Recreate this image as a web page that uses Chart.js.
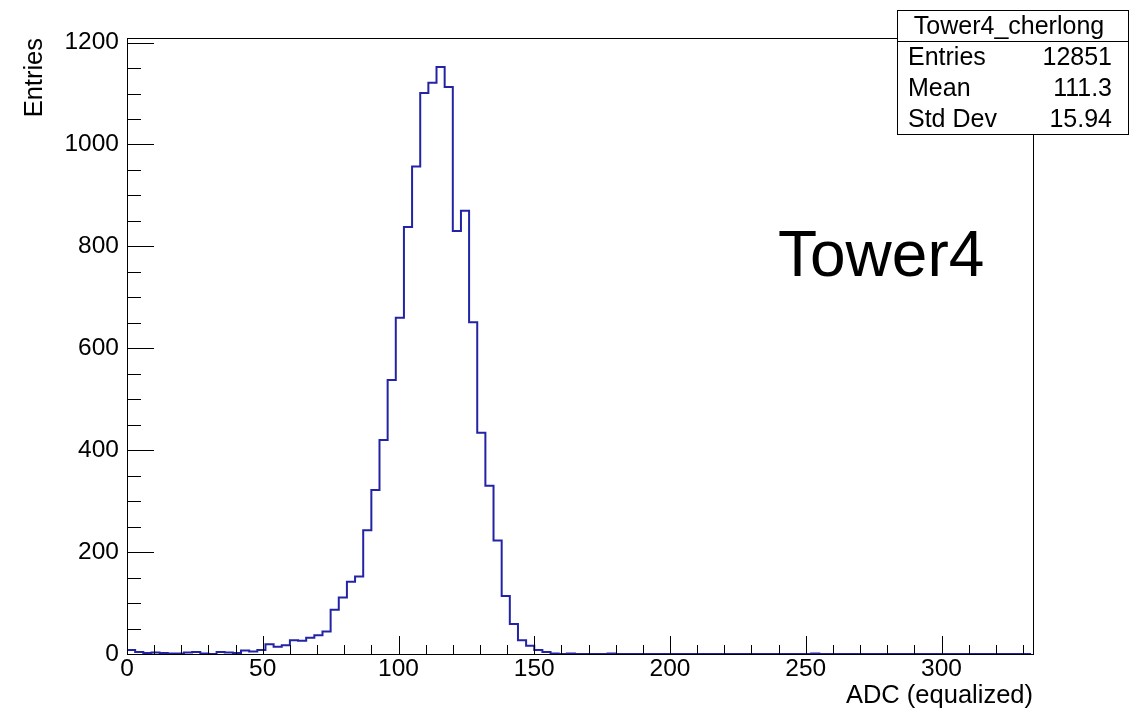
<!DOCTYPE html>
<html>
<head>
<meta charset="utf-8">
<script src="https://cdn.jsdelivr.net/npm/chart.js@4/dist/chart.umd.min.js"></script>
<style>
    html, body { margin: 0; padding: 0; background: #fff; }
    #wrap { width: 1132px; height: 711px; }
</style>
</head>
<body>
<div id="wrap"><canvas id="histo" width="1132" height="711"></canvas></div>
<script>
/* Tower4_cherlong — ADC histogram, ROOT style */

// bin contents, bin width 3 starting at 0
var binWidth = 3;
var binValues = [
    8, 4, 2, 3, 2, 1, 1, 3, 4, 1,
    0, 4, 3, 2, 7, 5, 8, 19, 14, 17,
    27, 26, 32, 37, 44, 87, 111, 142, 152, 243,
    322, 420, 538, 660, 838, 957, 1101, 1121, 1152, 1113,
    830, 870, 651, 434, 330, 223, 114, 59, 27, 16,
    8, 4, 1, 0, 1, 0, 0, 0, 0, 1,
    0, 0, 0, 0, 0, 0, 0, 0, 0, 0,
    0, 0, 0, 0, 0, 0, 0, 0, 0, 0,
    0, 0, 0, 0, 1, 0, 0, 0, 0, 0,
    0, 0, 0, 0, 0, 0, 0, 0, 0, 0,
    0, 0, 0, 0, 0, 0, 0, 0, 0, 0,
    0
];
var xMax = 333.7;
var yMax = 1209;
var xMajorTicks = [0, 50, 100, 150, 200, 250, 300];
var xMinorTicks = [10, 20, 30, 40, 60, 70, 80, 90, 110, 120, 130, 140, 160, 170, 180, 190,
    210, 220, 230, 240, 260, 270, 280, 290, 310, 320, 330];
var yMajorTicks = [0, 200, 400, 600, 800, 1000, 1200];
var yMinorTicks = [50, 100, 150, 250, 300, 350, 450, 500, 550, 650, 700, 750, 850, 900, 950, 1050, 1100, 1150];
var statLabels = ['Entries', 'Mean', 'Std Dev'];
var statValues = ['12851', '111.3', '15.94'];
var histName = 'Tower4_cherlong';

var FONT = '"Liberation Sans", Arial, Helvetica, sans-serif';

// stepped outline: one point per bin left edge + closing point
var points = [];
for (var i = 0; i < binValues.length; i++) {
    points.push({ x: i * binWidth, y: binValues[i] });
}
points.push({ x: binValues.length * binWidth, y: binValues[binValues.length - 1] });

var rootDecor = {
    id: 'rootDecor',
    afterDatasetsDraw: function (chart) {
        var ctx = chart.ctx;
        var a = chart.chartArea;
        var xs = chart.scales.x, ys = chart.scales.y;
        ctx.save();
        ctx.strokeStyle = '#000';
        ctx.lineWidth = 1;

        // frame
        ctx.strokeRect(Math.round(a.left) + 0.5, Math.round(a.top) + 0.5,
            Math.round(a.right - a.left), Math.round(a.bottom - a.top));

        // ticks pointing inward
        ctx.beginPath();
        var i, p;
        for (i = 0; i < xMajorTicks.length; i++) {
            p = Math.round(xs.getPixelForValue(xMajorTicks[i])) + 0.5;
            ctx.moveTo(p, a.bottom); ctx.lineTo(p, a.bottom - 18);
        }
        for (i = 0; i < xMinorTicks.length; i++) {
            p = Math.round(xs.getPixelForValue(xMinorTicks[i])) + 0.5;
            ctx.moveTo(p, a.bottom); ctx.lineTo(p, a.bottom - 9);
        }
        for (i = 0; i < yMajorTicks.length; i++) {
            p = Math.round(ys.getPixelForValue(yMajorTicks[i])) + 0.5;
            ctx.moveTo(a.left, p); ctx.lineTo(a.left + 27, p);
        }
        for (i = 0; i < yMinorTicks.length; i++) {
            p = Math.round(ys.getPixelForValue(yMinorTicks[i])) + 0.5;
            ctx.moveTo(a.left, p); ctx.lineTo(a.left + 14, p);
        }
        ctx.stroke();

        // axis titles
        ctx.fillStyle = '#000';
        ctx.font = '25.5px ' + FONT;
        ctx.textAlign = 'right';
        ctx.textBaseline = 'middle';
        ctx.fillText('ADC (equalized)', a.right, 696);
        ctx.save();
        ctx.translate(35, a.top);
        ctx.rotate(-Math.PI / 2);
        ctx.fillText('Entries', 0, 0);
        ctx.restore();

        // big label
        ctx.font = '64px ' + FONT;
        ctx.textAlign = 'left';
        ctx.textBaseline = 'alphabetic';
        ctx.fillText('Tower4', 778, 276);

        // stat box
        ctx.fillStyle = '#fff';
        ctx.fillRect(897.5, 10.5, 231, 124);
        ctx.strokeRect(897.5, 10.5, 231, 124);
        ctx.beginPath();
        ctx.moveTo(897.5, 41.5); ctx.lineTo(1128.5, 41.5);
        ctx.stroke();
        ctx.fillStyle = '#000';
        ctx.font = '25px ' + FONT;
        ctx.textBaseline = 'middle';
        ctx.textAlign = 'center';
        ctx.fillText(histName, 1009, 27);
        for (i = 0; i < statLabels.length; i++) {
            var yy = 58 + i * 31;
            ctx.textAlign = 'left';
            ctx.fillText(statLabels[i], 908, yy);
            ctx.textAlign = 'right';
            ctx.fillText(statValues[i], 1112, yy);
        }
        ctx.restore();
    }
};

var tickFont = { family: FONT, size: 24.5 };

new Chart(document.getElementById('histo').getContext('2d'), {
    type: 'line',
    data: {
        datasets: [{
            data: points,
            stepped: 'before',
            borderColor: '#2323a6',
            borderWidth: 2,
            pointRadius: 0,
            fill: false
        }]
    },
    options: {
        responsive: false,
        animation: false,
        layout: { padding: { top: 38, right: 99, bottom: 0, left: 0 } },
        plugins: { legend: { display: false }, tooltip: { enabled: false } },
        scales: {
            x: {
                type: 'linear',
                min: 0,
                max: xMax,
                afterFit: function (s) { s.height = 57; },
                afterBuildTicks: function (s) {
                    s.ticks = xMajorTicks.map(function (v) { return { value: v }; });
                },
                grid: { display: false, drawTicks: false },
                border: { display: false },
                ticks: {
                    font: tickFont, color: '#000', padding: 1,
                    maxRotation: 0, autoSkip: false,
                    callback: function (v) { return String(v); }
                }
            },
            y: {
                type: 'linear',
                min: 0,
                max: yMax,
                afterFit: function (s) { s.width = 127; },
                afterBuildTicks: function (s) {
                    s.ticks = yMajorTicks.map(function (v) { return { value: v }; });
                },
                grid: { display: false, drawTicks: false },
                border: { display: false },
                ticks: {
                    font: tickFont, color: '#000', padding: 8,
                    autoSkip: false,
                    callback: function (v) { return String(v); }
                }
            }
        }
    },
    plugins: [rootDecor]
});
</script>
</body>
</html>
